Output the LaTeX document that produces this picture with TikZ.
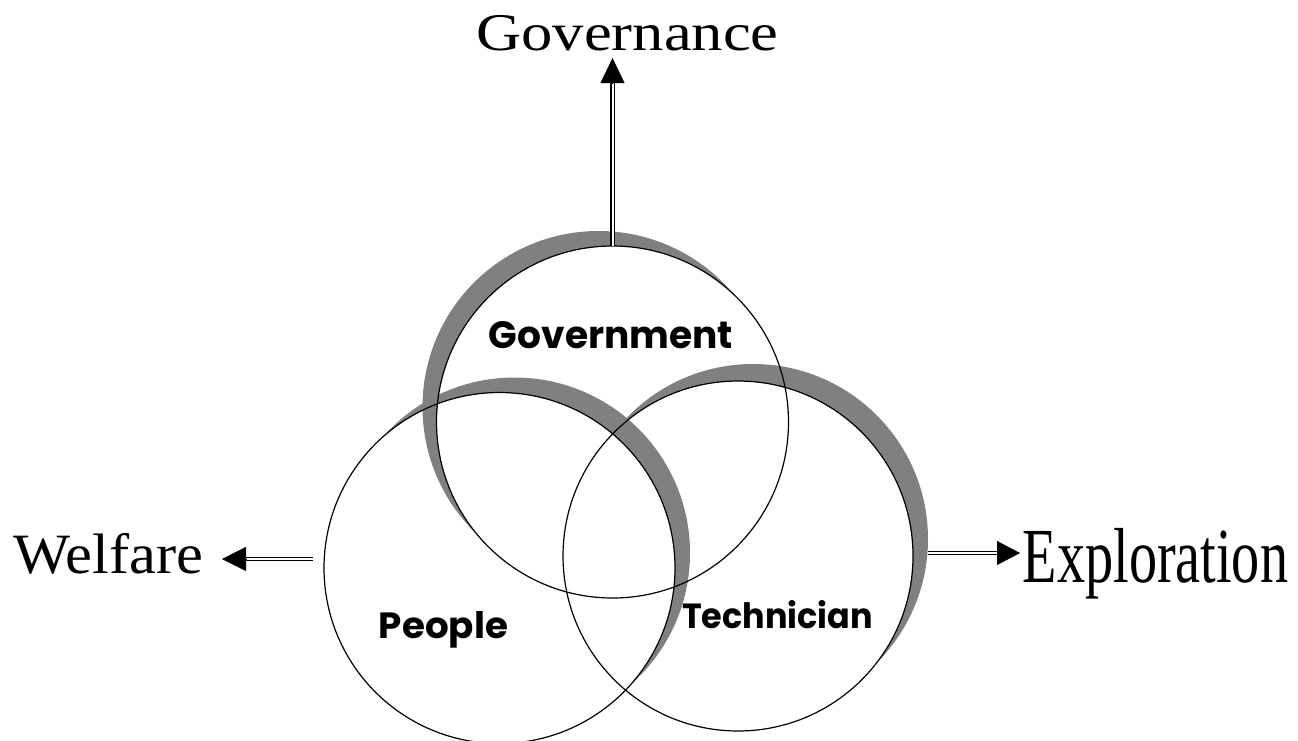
\documentclass[tikz,border=0pt]{standalone}
\usepackage{fontspec}
\setmainfont{Liberation Serif}
\newfontfamily\labfont{Poppins}
\usetikzlibrary{arrows.meta}
\definecolor{shadowgray}{RGB}{128,128,128}
\tikzset{
  ring/.style={circle, draw=black, line width=1.2pt, minimum size=#1, inner sep=0pt, outer sep=0pt},
  dbl/.style={draw=black, line width=1.1pt, double=white, double distance=2pt},
  head/.style={line width=0.4pt, -{Triangle[length=#1, width=24pt]}},
  inlabel/.style={anchor=base, inner sep=0pt, font=\labfont\bfseries},
  outlabel/.style={anchor=base, inner sep=0pt},
}
\newcommand{\crescent}[5]{% sx sy cx cy r
  \begin{scope}
    \clip (#1,#2) circle[radius=#5];
    \fill[shadowgray, even odd rule] (-50,-50) rectangle (1350,800) (#3,#4) circle[radius=#5];
  \end{scope}}
\begin{document}
\begin{tikzpicture}[x=1pt,y=-1pt]
\useasboundingbox[fill=white] (0,0) rectangle (1298,740);
% shadows
\crescent{598.5}{407}{612.5}{422}{176pt}
\crescent{514.5}{553}{499.5}{568}{175.5pt}
\crescent{753}{539}{738}{556}{175pt}
% circles
\node[ring=352pt] (gov) at (612.5,422) {};
\node[ring=351pt] (peo) at (499.5,568) {};
\node[ring=350pt] (tec) at (738,556) {};
% inner labels
\node[inlabel] (govlab) at (611,348) {\resizebox{244pt}{27pt}{Government}};
\node[inlabel] (peolab) at (443.5,638) {\resizebox{129pt}{27pt}{People}};
\node[inlabel] (teclab) at (777.5,628) {\resizebox{191pt}{28pt}{Technician}};
% outer labels
\node[outlabel] (governance) at (627.5,50) {\fontsize{53}{60}\selectfont\scalebox{1.18}[1]{Governance}};
\node[outlabel] (welfare) at (108.5,573) {\fontsize{57}{64}\selectfont\scalebox{1.06}[1]{Welfare}};
\node[outlabel] (exploration) at (1155.5,582) {\fontsize{78}{86}\selectfont\scalebox{0.72}[1]{Exploration}};
% arrow coordinates
\coordinate (govbase) at (612.5,83);
\coordinate (govtip) at (612.5,58);
\coordinate (welstart) at (313,559);
\coordinate (welbase) at (246,559);
\coordinate (weltip) at (222,559);
\coordinate (expstart) at (928,553);
\coordinate (expbase) at (997,553);
\coordinate (exptip) at (1020,553);
% connectors
\draw[dbl] (gov.north) -- (govbase);
\draw[head=25pt] (govbase) -- (govtip);
\draw[dbl] (welstart) -- (welbase);
\draw[head=24pt] (welbase) -- (weltip);
\draw[dbl] (expstart) -- (expbase);
\draw[head=23pt] (expbase) -- (exptip);
\end{tikzpicture}
\end{document}
